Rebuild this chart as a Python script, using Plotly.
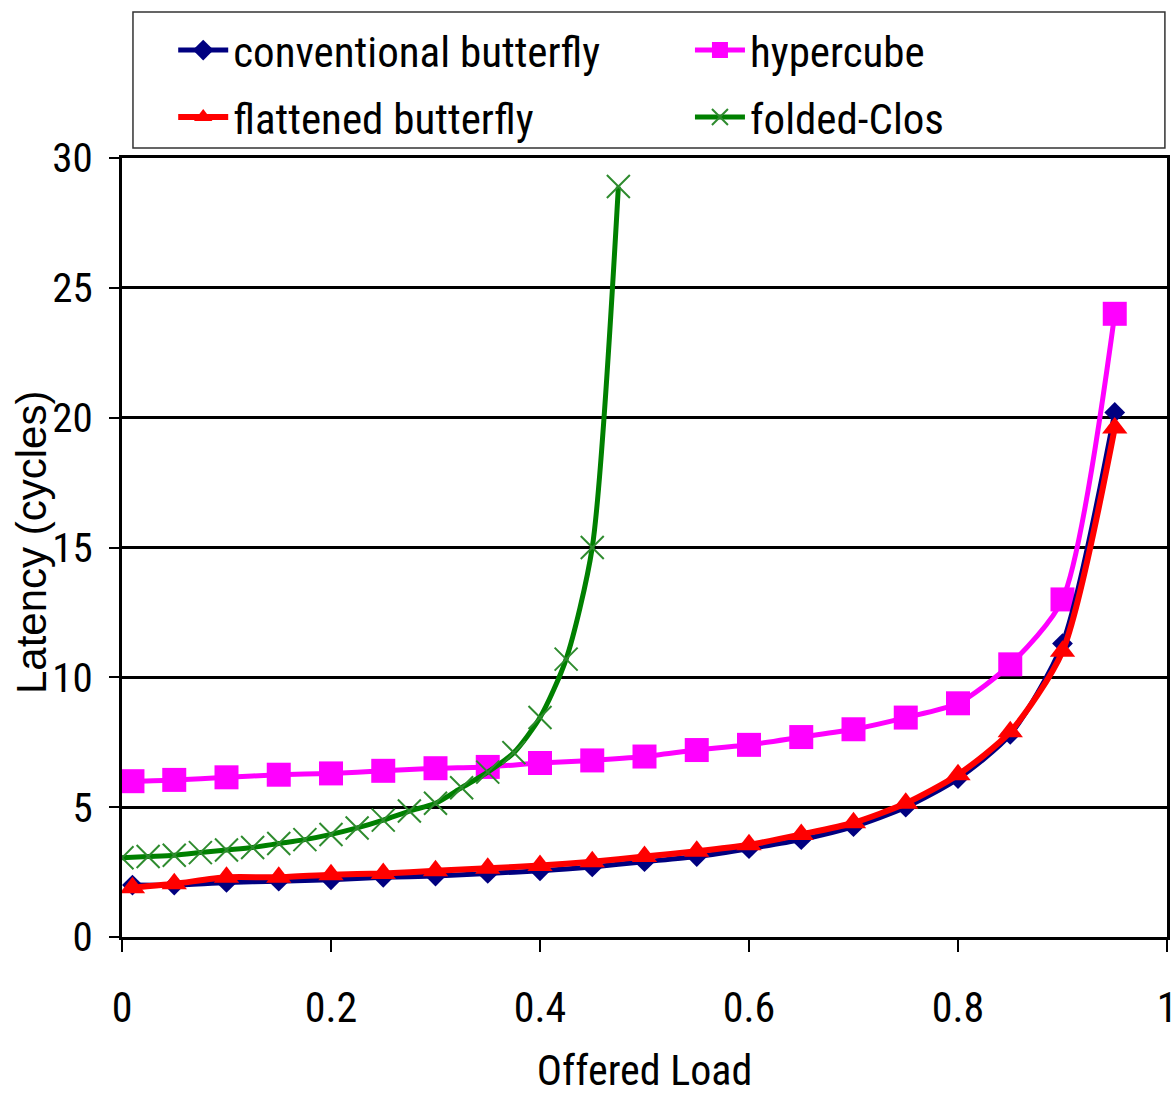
import plotly.graph_objects as go

# Data
load_main = [0.01, 0.05, 0.10, 0.15, 0.20, 0.25, 0.30, 0.35, 0.40, 0.45,
             0.50, 0.55, 0.60, 0.65, 0.70, 0.75, 0.80, 0.85, 0.90, 0.95]
conventional_butterfly = [2.0, 2.0, 2.1, 2.15, 2.2, 2.3, 2.35, 2.45, 2.55, 2.7,
                          2.9, 3.1, 3.4, 3.75, 4.25, 5.0, 6.1, 7.8, 11.3, 20.2]
flattened_butterfly = [1.9, 2.05, 2.3, 2.3, 2.4, 2.45, 2.55, 2.65, 2.75, 2.9,
                       3.1, 3.3, 3.55, 3.95, 4.4, 5.15, 6.25, 7.9, 11.0, 19.6]
hypercube = [6.0, 6.05, 6.15, 6.25, 6.3, 6.4, 6.5, 6.55, 6.7, 6.8,
             6.95, 7.2, 7.4, 7.7, 8.0, 8.45, 9.0, 10.5, 13.0, 24.0]

load_clos = [0.0, 0.025, 0.05, 0.075, 0.10, 0.125, 0.15, 0.175, 0.20, 0.225,
             0.25, 0.275, 0.30, 0.325, 0.35, 0.375, 0.40, 0.425, 0.45, 0.475]
folded_clos = [3.05, 3.1, 3.15, 3.25, 3.35, 3.45, 3.6, 3.75, 3.95, 4.2,
               4.5, 4.85, 5.15, 5.75, 6.35, 7.1, 8.45, 10.7, 15.0, 28.9]

x_ticks = [0, 0.2, 0.4, 0.6, 0.8, 1]
x_ticklabels = ["0", "0.2", "0.4", "0.6", "0.8", "1"]
y_ticks = [0, 5, 10, 15, 20, 25, 30]
x_title = "Offered Load"
y_title = "Latency (cycles)"

NARROW = "Liberation Sans Narrow, Roboto Condensed, Noto Sans Condensed, DejaVu Sans Condensed, Liberation Sans, sans-serif"
REG = "Liberation Sans, Arial, sans-serif"

fig = go.Figure()

fig.add_trace(go.Scatter(
    x=load_main, y=hypercube, name="hypercube", legend="legend2",
    mode="lines+markers", line=dict(color="#ff00ff", width=5, shape="spline", smoothing=0.7),
    marker=dict(symbol="square", size=24, color="#ff00ff")))
fig.add_trace(go.Scatter(
    x=load_main, y=conventional_butterfly, name="conventional butterfly", legend="legend",
    mode="lines+markers", line=dict(color="#000080", width=5, shape="spline", smoothing=0.7),
    marker=dict(symbol="diamond", size=16, color="#000080")))
fig.add_trace(go.Scatter(
    x=load_main, y=flattened_butterfly, name="flattened butterfly", legend="legend3",
    mode="lines+markers", line=dict(color="#ff0000", width=6, shape="spline", smoothing=0.7),
    marker=dict(symbol="triangle-up", size=22, color="#ff0000")))
fig.add_trace(go.Scatter(
    x=load_clos, y=folded_clos, name="folded-Clos", legend="legend4",
    mode="lines+markers", line=dict(color="#008000", width=5, shape="spline", smoothing=0.7),
    marker=dict(symbol="x-thin", size=23, color="#2e8b2e", line=dict(width=2, color="#2e8b2e"))))

def leg(x, y):
    return dict(
        x=x, y=y, orientation="h", xanchor="left", yanchor="middle",
        font=dict(family=NARROW, size=43, color="black"),
        borderwidth=0, bgcolor="rgba(0,0,0,0)", itemwidth=50,
    )

fig.update_layout(
    width=1173, height=1095,
    margin=dict(l=122, r=6, t=158, b=158, autoexpand=False),
    plot_bgcolor="white", paper_bgcolor="white",
    showlegend=True,
    legend=leg(0.049, 1.1385),
    legend2=leg(0.5435, 1.1385),
    legend3=leg(0.049, 1.0525),
    legend4=leg(0.5435, 1.0525),
    shapes=[dict(type="rect", xref="paper", yref="paper",
                 x0=0.0105, x1=0.998, y0=1.0128, y1=1.1874,
                 line=dict(color="#333333", width=1.5), fillcolor="rgba(0,0,0,0)", layer="below")],
    annotations=[dict(text=y_title, textangle=-90, xref="paper", yref="paper",
                      x=-0.0871, y=0.507, xanchor="center", yanchor="middle", showarrow=False,
                      font=dict(family=REG, size=42, color="black"))],
    xaxis=dict(
        range=[0, 1], tickvals=x_ticks, ticktext=x_ticklabels,
        showgrid=False, zeroline=False,
        showline=True, linecolor="black", linewidth=3, mirror=True,
        ticks="outside", ticklen=12, tickwidth=2, tickcolor="black",
        ticklabelstandoff=20, ticklabeloverflow="allow",
        tickfont=dict(family=NARROW, size=42, color="black"),
        title=dict(text=x_title, font=dict(family=NARROW, size=42, color="black"), standoff=32),
    ),
    yaxis=dict(
        range=[0, 30], tickvals=y_ticks,
        showgrid=True, gridcolor="black", gridwidth=3, zeroline=False,
        showline=True, linecolor="black", linewidth=3, mirror=True,
        ticks="outside", ticklen=10, tickwidth=2, tickcolor="black",
        ticklabelstandoff=8,
        tickfont=dict(family=NARROW, size=41, color="black"),
    ),
)

fig.write_html("out.html")
